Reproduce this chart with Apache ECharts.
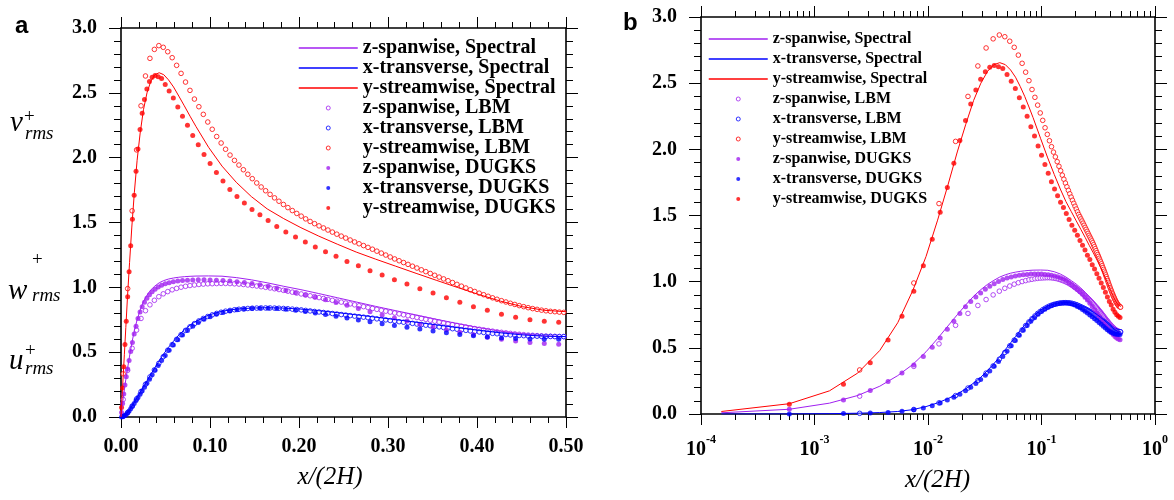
<!DOCTYPE html>
<html>
<head>
<meta charset="utf-8">
<script src="https://cdn.jsdelivr.net/npm/echarts@6/dist/echarts.min.js"></script>
<style>
html,body{margin:0;padding:0;background:#fff;overflow:hidden;}
#chart{width:1174px;height:500px;}
</style>
</head>
<body>
<div id="chart"></div>
<script>
// ---------------- data ----------------
const seriesNames = [
  'z-spanwise, Spectral', 'x-transverse, Spectral', 'y-streamwise, Spectral',
  'z-spanwise, LBM', 'x-transverse, LBM', 'y-streamwise, LBM',
  'z-spanwise, DUGKS', 'x-transverse, DUGKS', 'y-streamwise, DUGKS'
];
const panelLabels = ['a', 'b'];
const xTitle = 'x/(2H)';

const specX = [0, 0.000151, 0.000602, 0.001355, 0.002408, 0.00376, 0.005412, 0.007361, 0.009607, 0.012149,
  0.014984, 0.018112, 0.02153, 0.025236, 0.029228, 0.033504, 0.03806, 0.042895, 0.048005, 0.053388,
  0.05904, 0.064957, 0.071136, 0.077573, 0.084265, 0.098396, 0.113495, 0.129524, 0.146447, 0.164221,
  0.182803, 0.20215, 0.222215, 0.242949, 0.264302, 0.286222, 0.308658, 0.331555, 0.354858, 0.37851,
  0.402455, 0.426635, 0.450991, 0.475466, 0.5];
const specZ = [0, 0.009, 0.036, 0.082, 0.14, 0.21, 0.29, 0.375, 0.47, 0.57,
  0.665, 0.75, 0.825, 0.89, 0.94, 0.98, 1.01, 1.035, 1.052, 1.064,
  1.072, 1.078, 1.082, 1.085, 1.087, 1.088, 1.086, 1.075, 1.058, 1.035,
  1.008, 0.982, 0.952, 0.92, 0.887, 0.853, 0.82, 0.787, 0.753, 0.72,
  0.689, 0.662, 0.64, 0.626, 0.62];
const specXT = [0, 0, 0.0005, 0.0025, 0.006, 0.011, 0.019, 0.033, 0.056, 0.084,
  0.116, 0.151, 0.19, 0.234, 0.278, 0.33, 0.38, 0.434, 0.487, 0.537,
  0.585, 0.632, 0.672, 0.708, 0.739, 0.786, 0.816, 0.832, 0.84, 0.843,
  0.84, 0.832, 0.82, 0.805, 0.788, 0.77, 0.751, 0.731, 0.71, 0.689,
  0.668, 0.649, 0.633, 0.623, 0.62];
const specY = [0, 0.019, 0.078, 0.175, 0.31, 0.48, 0.69, 0.935, 1.19, 1.465,
  1.73, 1.98, 2.19, 2.37, 2.5, 2.59, 2.64, 2.655, 2.64, 2.6,
  2.545, 2.475, 2.4, 2.32, 2.24, 2.08, 1.935, 1.81, 1.7, 1.605,
  1.53, 1.46, 1.395, 1.333, 1.272, 1.217, 1.163, 1.108, 1.053, 0.998,
  0.944, 0.893, 0.851, 0.823, 0.812];

const lbmX = [0.0025, 0.0075, 0.0125, 0.0175, 0.0225, 0.0275, 0.0325, 0.0375, 0.0425, 0.0475,
  0.0525, 0.0575, 0.0625, 0.0675, 0.0725, 0.0775, 0.0825, 0.0875, 0.0925, 0.0975,
  0.1025, 0.1075, 0.1125, 0.1175, 0.1225, 0.1275, 0.1325, 0.1375, 0.1425, 0.1475,
  0.1525, 0.1575, 0.1625, 0.1675, 0.1725, 0.1775, 0.1825, 0.1875, 0.1925, 0.1975,
  0.2025, 0.2075, 0.2125, 0.2175, 0.2225, 0.2275, 0.2325, 0.2375, 0.2425, 0.2475,
  0.2525, 0.2575, 0.2625, 0.2675, 0.2725, 0.2775, 0.2825, 0.2875, 0.2925, 0.2975,
  0.3025, 0.3075, 0.3125, 0.3175, 0.3225, 0.3275, 0.3325, 0.3375, 0.3425, 0.3475,
  0.3525, 0.3575, 0.3625, 0.3675, 0.3725, 0.3775, 0.3825, 0.3875, 0.3925, 0.3975,
  0.4025, 0.4075, 0.4125, 0.4175, 0.4225, 0.4275, 0.4325, 0.4375, 0.4425, 0.4475,
  0.4525, 0.4575, 0.4625, 0.4675, 0.4725, 0.4775, 0.4825, 0.4875, 0.4925, 0.4975];
const lbmZ = [0.135, 0.36, 0.53, 0.67, 0.76, 0.82, 0.865, 0.9, 0.928, 0.95,
  0.967, 0.981, 0.992, 1.001, 1.008, 1.014, 1.018, 1.022, 1.025, 1.027,
  1.028, 1.029, 1.03, 1.03, 1.029, 1.027, 1.025, 1.022, 1.018, 1.014,
  1.01, 1.005, 1.0, 0.995, 0.989, 0.983, 0.977, 0.97, 0.963, 0.956,
  0.949, 0.942, 0.935, 0.928, 0.921, 0.914, 0.907, 0.9, 0.893, 0.886,
  0.879, 0.872, 0.865, 0.858, 0.851, 0.844, 0.837, 0.83, 0.823, 0.816,
  0.809, 0.802, 0.795, 0.788, 0.781, 0.774, 0.767, 0.76, 0.753, 0.746,
  0.739, 0.732, 0.725, 0.718, 0.712, 0.706, 0.7, 0.694, 0.688, 0.682,
  0.677, 0.672, 0.667, 0.662, 0.657, 0.653, 0.649, 0.645, 0.641, 0.638,
  0.635, 0.632, 0.63, 0.628, 0.626, 0.624, 0.623, 0.622, 0.621, 0.62];
const lbmXT = [0.005, 0.034, 0.084, 0.139, 0.196, 0.252, 0.309, 0.363, 0.414, 0.465,
  0.515, 0.558, 0.599, 0.635, 0.668, 0.696, 0.72, 0.741, 0.76, 0.775,
  0.788, 0.799, 0.808, 0.816, 0.822, 0.827, 0.831, 0.834, 0.837, 0.839,
  0.84, 0.841, 0.841, 0.841, 0.84, 0.839, 0.837, 0.835, 0.832, 0.829,
  0.826, 0.822, 0.818, 0.814, 0.81, 0.806, 0.802, 0.798, 0.794, 0.79,
  0.786, 0.782, 0.778, 0.774, 0.77, 0.766, 0.762, 0.757, 0.753, 0.749,
  0.744, 0.74, 0.735, 0.731, 0.726, 0.722, 0.717, 0.713, 0.708, 0.704,
  0.699, 0.695, 0.69, 0.686, 0.681, 0.677, 0.673, 0.668, 0.664, 0.66,
  0.656, 0.652, 0.648, 0.645, 0.642, 0.639, 0.636, 0.633, 0.631, 0.629,
  0.627, 0.625, 0.624, 0.623, 0.622, 0.621, 0.621, 0.62, 0.62, 0.62];
const lbmY = [0.333, 0.99, 1.59, 2.06, 2.4, 2.63, 2.766, 2.835, 2.864, 2.851,
  2.817, 2.771, 2.712, 2.65, 2.583, 2.519, 2.452, 2.393, 2.334, 2.275,
  2.219, 2.163, 2.113, 2.065, 2.02, 1.979, 1.943, 1.907, 1.872, 1.838,
  1.805, 1.774, 1.745, 1.717, 1.69, 1.664, 1.639, 1.615, 1.592, 1.57,
  1.549, 1.528, 1.508, 1.491, 1.474, 1.458, 1.442, 1.426, 1.41, 1.395,
  1.38, 1.365, 1.35, 1.336, 1.322, 1.308, 1.294, 1.279, 1.264, 1.249,
  1.234, 1.219, 1.205, 1.191, 1.177, 1.163, 1.149, 1.135, 1.121, 1.107,
  1.093, 1.079, 1.065, 1.051, 1.037, 1.023, 1.009, 0.995, 0.981, 0.968,
  0.955, 0.943, 0.931, 0.919, 0.908, 0.897, 0.887, 0.877, 0.868, 0.859,
  0.851, 0.843, 0.836, 0.83, 0.824, 0.819, 0.815, 0.812, 0.809, 0.807];

const dugksX = [0.0006, 0.0018, 0.0031, 0.00445, 0.0059, 0.0075, 0.0091, 0.0109, 0.0128, 0.0148,
  0.0169, 0.0191, 0.0214, 0.0238, 0.0264, 0.0291, 0.032, 0.035, 0.0383, 0.0418,
  0.0456, 0.0497, 0.0541, 0.0588, 0.0638, 0.0691, 0.0747, 0.0806, 0.0868, 0.0933,
  0.1001, 0.1072, 0.1146, 0.1223, 0.1303, 0.1386, 0.1472, 0.1561, 0.1653, 0.175,
  0.1852, 0.1961, 0.2071, 0.2183, 0.2298, 0.2416, 0.2539, 0.2667, 0.2798, 0.2934,
  0.3072, 0.3213, 0.3358, 0.3506, 0.3656, 0.3807, 0.396, 0.4116, 0.4275, 0.4434,
  0.4595, 0.4756, 0.4918];
const dugksZ = [0.035, 0.105, 0.178, 0.246, 0.31, 0.37, 0.435, 0.505, 0.575, 0.64,
  0.7, 0.76, 0.81, 0.85, 0.885, 0.915, 0.942, 0.965, 0.985, 1.002,
  1.016, 1.027, 1.036, 1.043, 1.048, 1.052, 1.055, 1.057, 1.058, 1.058,
  1.057, 1.055, 1.052, 1.048, 1.043, 1.037, 1.03, 1.02, 1.008, 0.992,
  0.975, 0.958, 0.941, 0.923, 0.904, 0.883, 0.861, 0.837, 0.812, 0.787,
  0.763, 0.74, 0.716, 0.694, 0.673, 0.653, 0.634, 0.616, 0.6, 0.586,
  0.575, 0.567, 0.562];
const dugksXT = [0.0005, 0.003, 0.007, 0.012, 0.02, 0.032, 0.046, 0.063, 0.083, 0.105,
  0.127, 0.15, 0.176, 0.202, 0.23, 0.26, 0.292, 0.325, 0.36, 0.397,
  0.435, 0.475, 0.515, 0.555, 0.595, 0.633, 0.668, 0.7, 0.728, 0.753,
  0.774, 0.792, 0.806, 0.818, 0.827, 0.833, 0.837, 0.839, 0.839, 0.836,
  0.831, 0.823, 0.813, 0.802, 0.79, 0.777, 0.763, 0.749, 0.735, 0.72,
  0.706, 0.692, 0.678, 0.664, 0.65, 0.637, 0.626, 0.617, 0.61, 0.605,
  0.602, 0.6, 0.6];
const dugksY = [0.073, 0.224, 0.388, 0.559, 0.738, 0.927, 1.12, 1.32, 1.525, 1.711,
  1.895, 2.066, 2.217, 2.343, 2.449, 2.53, 2.587, 2.62, 2.633, 2.625,
  2.61, 2.565, 2.515, 2.46, 2.39, 2.32, 2.25, 2.17, 2.1, 2.025,
  1.955, 1.886, 1.82, 1.755, 1.7, 1.65, 1.6, 1.56, 1.515, 1.47,
  1.427, 1.388, 1.35, 1.311, 1.275, 1.239, 1.2, 1.167, 1.128, 1.095,
  1.059, 1.026, 0.99, 0.956, 0.92, 0.884, 0.851, 0.823, 0.792, 0.769,
  0.75, 0.738, 0.73];

// ---------------- styling ----------------
const SERIF = '"Liberation Serif", "Times New Roman", Times, serif';
const SANS = '"Liberation Sans", Arial, Helvetica, sans-serif';
const PURPLE = '#a020f0', BLUE = '#0000ff', RED = '#ff0000';
const BLACK = '#000';

function pairs(xs, ys, positiveOnly) {
  const out = [];
  for (let i = 0; i < xs.length; i++) {
    if (positiveOnly && xs[i] <= 0) continue;
    out.push([xs[i], ys[i]]);
  }
  return out;
}

function panelSeries(xi, yi, log) {
  const lines = [[specZ, PURPLE], [specXT, BLUE], [specY, RED]];
  const lbm = [[lbmZ, PURPLE], [lbmXT, BLUE], [lbmY, RED]];
  const dug = [[dugksZ, PURPLE], [dugksXT, BLUE], [dugksY, RED]];
  const out = [];
  lbm.forEach((s, i) => out.push({
    type: 'scatter', name: seriesNames[3 + i], xAxisIndex: xi, yAxisIndex: yi,
    data: pairs(lbmX, s[0], log), symbol: 'circle', symbolSize: 4.6, silent: true,
    itemStyle: { color: '#fff', borderColor: s[1], borderWidth: 1 }
  }));
  dug.forEach((s, i) => out.push({
    type: 'scatter', name: seriesNames[6 + i], xAxisIndex: xi, yAxisIndex: yi,
    data: pairs(dugksX, s[0], log), symbol: 'circle', symbolSize: 5, silent: true,
    itemStyle: { color: s[1] }
  }));
  lines.forEach((s, i) => out.push({
    type: 'line', name: seriesNames[i], xAxisIndex: xi, yAxisIndex: yi,
    data: pairs(specX, s[0], log), symbol: 'none', showSymbol: false, silent: true,
    lineStyle: { color: s[1], width: 1 }, itemStyle: { color: s[1] }
  }));
  return out;
}

function tickOpt(len) { return { show: true, length: len, lineStyle: { color: BLACK, width: 1 } }; }
function minorOpt(n, len) { return { show: true, splitNumber: n, length: len, lineStyle: { color: BLACK, width: 1 } }; }
function axisLineOpt() { return { show: true, onZero: false, lineStyle: { color: BLACK, width: 1.6 } }; }

function xValueAxis(grid, pos) {
  return {
    type: 'value', gridIndex: grid, position: pos, min: 0, max: 0.5, interval: 0.1,
    axisLine: axisLineOpt(), axisTick: tickOpt(11), minorTick: minorOpt(5, 6),
    splitLine: { show: false },
    axisLabel: pos === 'bottom' ? {
      show: true, margin: 20, color: BLACK, fontFamily: SERIF, fontWeight: 'bold', fontSize: 20,
      showMinLabel: true, showMaxLabel: true, formatter: v => v.toFixed(2)
    } : { show: false }
  };
}
function xLogAxis(grid, pos) {
  return {
    type: 'log', logBase: 10, gridIndex: grid, position: pos, min: 0.0001, max: 1,
    axisLine: axisLineOpt(), axisTick: tickOpt(11), minorTick: minorOpt(9, 6),
    splitLine: { show: false },
    axisLabel: pos === 'bottom' ? {
      show: true, margin: 20, showMinLabel: true, showMaxLabel: true,
      formatter: function (v) {
        const e = Math.round(Math.log(v) / Math.LN10);
        return '{b|10}{s|' + e + '}';
      },
      rich: {
        b: { fontFamily: SERIF, fontWeight: 'bold', fontSize: 20, lineHeight: 32, color: BLACK },
        s: { fontFamily: SERIF, fontWeight: 'bold', fontSize: 12, lineHeight: 12, verticalAlign: 'top', color: BLACK }
      }
    } : { show: false }
  };
}
function yAxis(grid, pos) {
  return {
    type: 'value', gridIndex: grid, position: pos, min: 0, max: 3, interval: 0.5,
    axisLine: axisLineOpt(), axisTick: tickOpt(12), minorTick: minorOpt(5, 7),
    splitLine: { show: false },
    axisLabel: pos === 'left' ? {
      show: true, margin: 24, color: BLACK, fontFamily: SERIF, fontWeight: 'bold', fontSize: 20,
      showMinLabel: true, showMaxLabel: true, formatter: v => v.toFixed(1)
    } : { show: false }
  };
}

function legend(left, top, fontSize) {
  return {
    show: true, orient: 'vertical', left: left, top: top, padding: 0, itemGap: 0,
    itemWidth: 59, itemHeight: 4, selectedMode: false,
    data: seriesNames.map((n, i) => i < 3 ? { name: n, itemStyle: { opacity: 0 } } : { name: n }),
    textStyle: { fontFamily: SERIF, fontWeight: 'bold', fontSize: fontSize, lineHeight: 20, color: BLACK },
    lineStyle: { width: 1.5 },
    itemStyle: { borderWidth: 1 }
  };
}

function mathLabel(letter, x, y, supX, supY, subX, subY) {
  return [
    { type: 'text', x: x, y: y, style: { text: letter, font: 'italic 29px ' + SERIF, fill: BLACK, verticalAlign: 'middle' } },
    { type: 'text', x: supX, y: supY, style: { text: '+', font: '19px ' + SERIF, fill: BLACK, verticalAlign: 'middle' } },
    { type: 'text', x: subX, y: subY, style: { text: 'rms', font: 'italic 19px ' + SERIF, fill: BLACK, verticalAlign: 'middle' } }
  ];
}

const xA = xValueAxis(0, 'bottom');
xA.name = xTitle; xA.nameLocation = 'middle'; xA.nameGap = 48;
xA.nameTextStyle = { fontFamily: SERIF, fontStyle: 'italic', fontSize: 25, color: BLACK, padding: [0, 27, 0, 0] };
const xB = xLogAxis(1, 'bottom');
xB.name = xTitle; xB.nameLocation = 'middle'; xB.nameGap = 54;
xB.nameTextStyle = { fontFamily: SERIF, fontStyle: 'italic', fontSize: 25, color: BLACK, padding: [0, 0, 0, 19] };

const option = {
  animation: false,
  grid: [
    { left: 121, top: 28, width: 445, height: 389, outerBoundsMode: 'none', containLabel: false },
    { left: 701, top: 17, width: 454, height: 397, outerBoundsMode: 'none', containLabel: false }
  ],
  xAxis: [xA, xValueAxis(0, 'top'), xB, xLogAxis(1, 'top')],
  yAxis: [yAxis(0, 'left'), yAxis(0, 'right'), yAxis(1, 'left'), yAxis(1, 'right')],
  legend: [legend(298, 38, 20), legend(708, 29, 16)],
  graphic: {
    elements: [
      { type: 'text', x: 15, y: 26, style: { text: panelLabels[0], font: 'bold 24px ' + SANS, fill: BLACK, verticalAlign: 'middle' } },
      { type: 'text', x: 623, y: 23, style: { text: panelLabels[1], font: 'bold 24px ' + SANS, fill: BLACK, verticalAlign: 'middle' } }
    ].concat(
      mathLabel('v', 10, 123, 24, 117, 25, 134),
      mathLabel('w', 8, 291, 32, 260, 32, 296),
      mathLabel('u', 9, 361, 25, 351, 25, 369)
    )
  },
  series: panelSeries(0, 0, false).concat(panelSeries(2, 2, true))
};

const chart = echarts.init(document.getElementById('chart'), null, { renderer: 'canvas' });
chart.setOption(option);
</script>
</body>
</html>
